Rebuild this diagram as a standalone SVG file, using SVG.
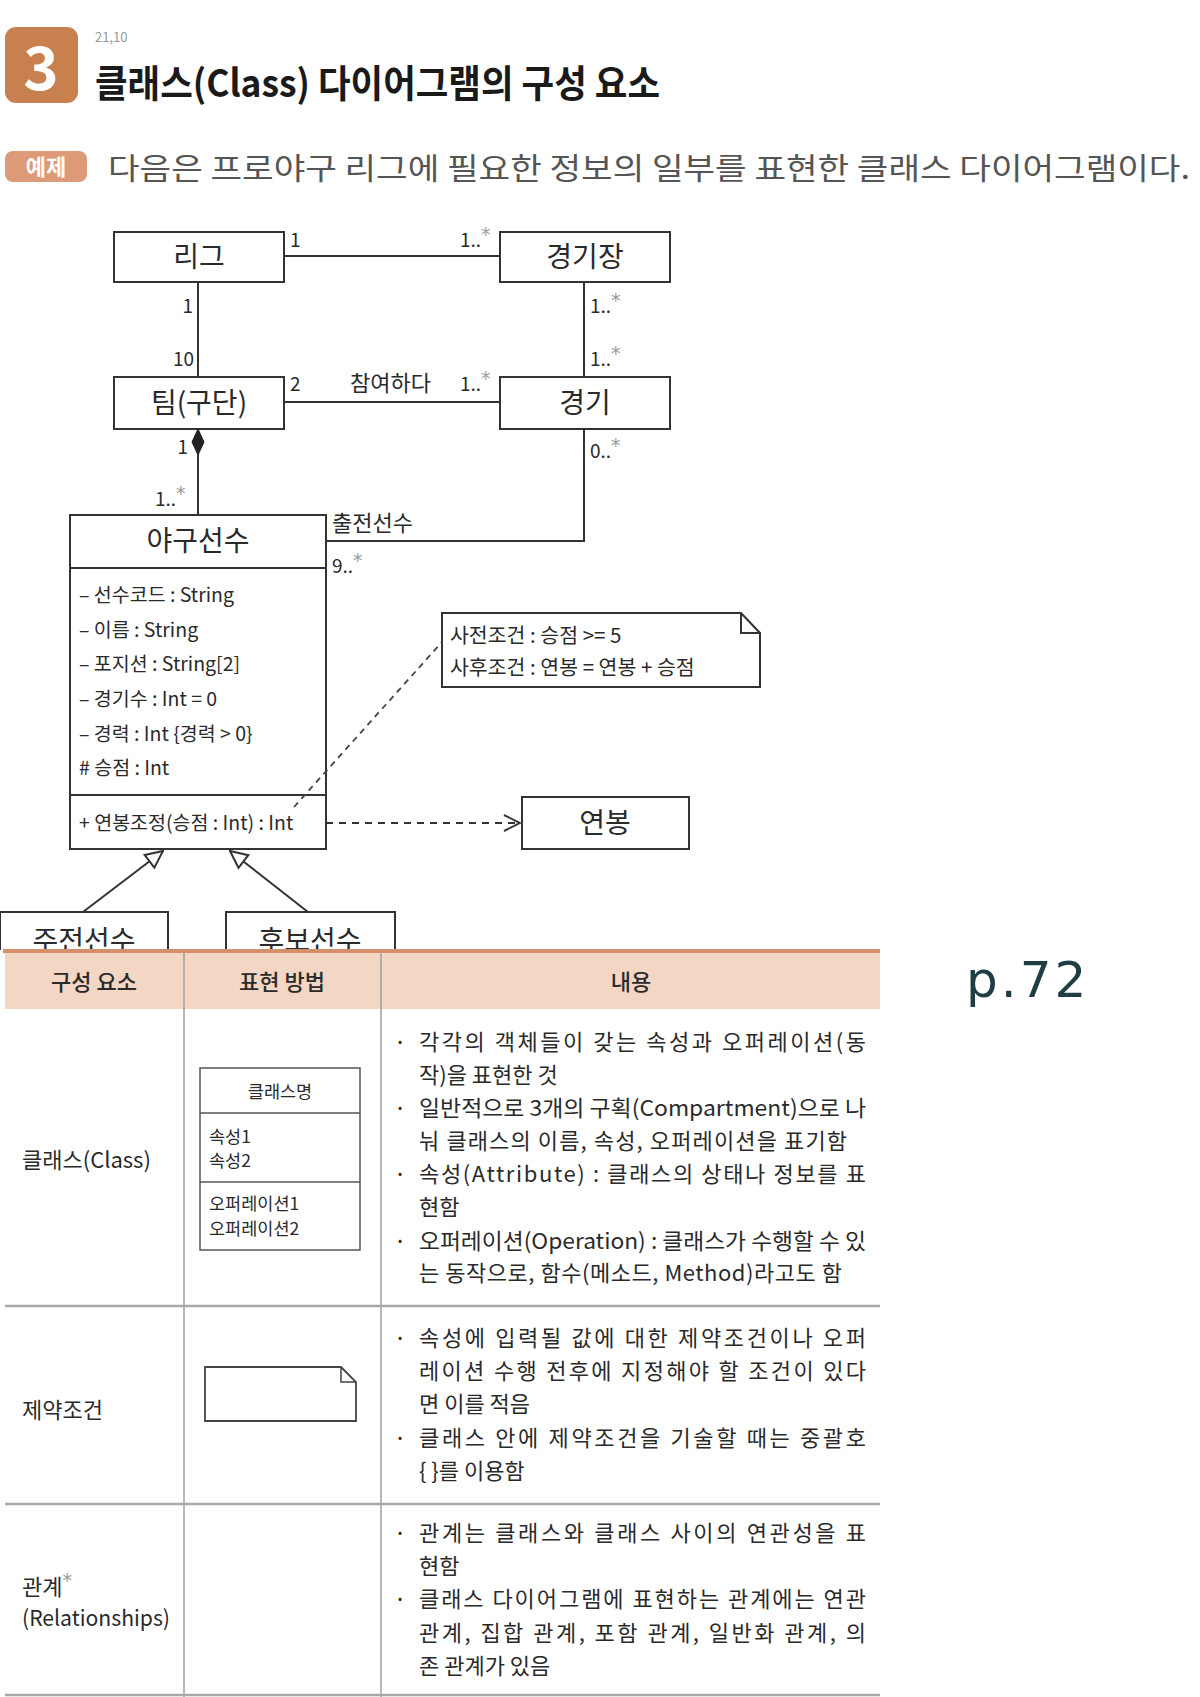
<svg xmlns="http://www.w3.org/2000/svg" width="1200" height="1697" viewBox="0 0 1200 1697">
<defs>
<style>
text{font-family:"Noto Sans CJK KR","Noto Sans",sans-serif;fill:#2a2a2a}
.box{fill:#fff;stroke:#333;stroke-width:2}
.ln{fill:none;stroke:#333;stroke-width:2}
.dash{fill:none;stroke:#333;stroke-width:2;stroke-dasharray:7 6}
.dot{fill:none;stroke:#444;stroke-width:1.8;stroke-dasharray:6 5}
.name{font-size:28px;text-anchor:middle}
.m{font-size:19px}
.m2{font-size:19px;text-anchor:end}
.star{font-size:19px;fill:#9a9a9a;font-family:"DejaVu Sans",sans-serif}
.attr{font-size:19.5px}
.nt{font-size:20.5px}
.lbl{font-size:22px}
.th{font-size:22px;text-anchor:middle;font-weight:500}
.c1{font-size:22px}
.c3{font-size:22px}
.bul{font-size:12px}
.sm{font-size:17.5px}
.grid{stroke:#a0a0a0;stroke-width:1.5;fill:none}
.row{stroke:#a8a8a8;stroke-width:2.5;fill:none}
</style>
<marker id="gen" viewBox="0 0 20 20" refX="19" refY="10" markerWidth="20" markerHeight="20" markerUnits="userSpaceOnUse" orient="auto"><path d="M2,2 L19,10 L2,18 Z" fill="#fff" stroke="#333" stroke-width="2" stroke-dasharray="none"/></marker>
<marker id="open" viewBox="0 0 18 20" refX="17" refY="10" markerWidth="18" markerHeight="20" markerUnits="userSpaceOnUse" orient="auto"><path d="M1,2 L17,10 L1,18" fill="none" stroke="#333" stroke-width="2" stroke-dasharray="none"/></marker>
<marker id="dia" viewBox="0 0 28 14" refX="1" refY="7" markerWidth="28" markerHeight="14" markerUnits="userSpaceOnUse" orient="auto"><path d="M1,7 L14,1 L27,7 L14,13 Z" fill="#222" stroke="#222" stroke-width="1"/></marker>
</defs>
<rect width="1200" height="1697" fill="#fff"/>

<g id="header">
<rect x="5" y="27" width="73" height="76" rx="11" fill="#c9804f"/>
<text x="41" y="90" font-size="60" font-weight="bold" text-anchor="middle" style="fill:#fff">3</text>
<text x="95" y="42" font-size="13" style="fill:#999">21,10</text>
<text x="95" y="97" font-size="38" font-weight="bold" textLength="565" lengthAdjust="spacingAndGlyphs" style="fill:#1a1a1a">클래스(Class) 다이어그램의 구성 요소</text>
<rect x="5" y="151" width="82" height="31" rx="8" fill="#dc9a78"/>
<text x="46" y="175" font-size="22" font-weight="bold" text-anchor="middle" style="fill:#fff">예제</text>
<text x="108" y="179" font-size="30" textLength="1082" lengthAdjust="spacingAndGlyphs" style="fill:#555">다음은 프로야구 리그에 필요한 정보의 일부를 표현한 클래스 다이어그램이다.</text>
</g>

<g id="league"><rect class="box" x="114" y="232" width="170" height="50"/><text class="name" x="199" y="267">리그</text></g>
<g id="stadium"><rect class="box" x="500" y="232" width="170" height="50"/><text class="name" x="585" y="267">경기장</text></g>
<g id="team"><rect class="box" x="114" y="377" width="170" height="52"/><text class="name" x="199" y="413">팀(구단)</text></g>
<g id="game"><rect class="box" x="500" y="377" width="170" height="52"/><text class="name" x="585" y="413">경기</text></g>

<g id="player">
<rect class="box" x="70" y="515" width="256" height="334"/>
<line class="ln" x1="70" y1="568" x2="326" y2="568"/>
<line class="ln" x1="70" y1="795" x2="326" y2="795"/>
<text class="name" x="198" y="551">야구선수</text>
<text class="attr" x="79" y="602">– 선수코드 : String</text>
<text class="attr" x="79" y="637">– 이름 : String</text>
<text class="attr" x="79" y="671">– 포지션 : String[2]</text>
<text class="attr" x="79" y="706">– 경기수 : Int = 0</text>
<text class="attr" x="79" y="741">– 경력 : Int {경력 &gt; 0}</text>
<text class="attr" x="79" y="775"># 승점 : Int</text>
<text class="attr" x="79" y="830">+ 연봉조정(승점 : Int) : Int</text>
</g>

<g id="note">
<path class="box" d="M442,613 H741 L760,633 V687 H442 Z"/>
<path class="ln" d="M741,613 V633 H760"/>
<text class="nt" x="450" y="643">사전조건 : 승점 &gt;= 5</text>
<text class="nt" x="450" y="675">사후조건 : 연봉 = 연봉 + 승점</text>
</g>

<g id="salary"><rect class="box" x="522" y="797" width="167" height="52"/><text class="name" x="605" y="833">연봉</text></g>

<g id="starter"><rect class="box" x="0" y="912" width="168" height="60"/><text class="name" x="84" y="951">주전선수</text></g>
<g id="reserve"><rect class="box" x="226" y="912" width="169" height="60"/><text class="name" x="310" y="951">후보선수</text></g>

<g id="connectors">
<line class="ln" x1="284" y1="256" x2="500" y2="256"/>
<line class="ln" x1="198" y1="282" x2="198" y2="377"/>
<line class="ln" x1="584" y1="282" x2="584" y2="377"/>
<line class="ln" x1="284" y1="402" x2="500" y2="402"/>
<line class="ln" x1="198" y1="429" x2="198" y2="515" marker-start="url(#dia)"/>
<polyline class="ln" points="584,429 584,541 326,541"/>
<line class="dash" x1="326" y1="823" x2="520" y2="823" marker-end="url(#open)"/>
<line class="dot" x1="294" y1="807" x2="442" y2="642"/>
<line class="ln" x1="83" y1="912" x2="163" y2="851" marker-end="url(#gen)"/>
<line class="ln" x1="308" y1="912" x2="230" y2="851" marker-end="url(#gen)"/>
<text class="m" x="290" y="247">1</text>
<text class="m" x="460" y="247">1..<tspan class="star" dy="-6">*</tspan></text>
<text class="m2" x="193" y="313">1</text>
<text class="m2" x="194" y="366">10</text>
<text class="m" x="590" y="313">1..<tspan class="star" dy="-6">*</tspan></text>
<text class="m" x="590" y="366">1..<tspan class="star" dy="-6">*</tspan></text>
<text class="m" x="290" y="391">2</text>
<text class="lbl" x="350" y="391">참여하다</text>
<text class="m" x="460" y="391">1..<tspan class="star" dy="-6">*</tspan></text>
<text class="m2" x="188" y="454">1</text>
<text class="m" x="155" y="506">1..<tspan class="star" dy="-6">*</tspan></text>
<text class="m" x="590" y="458">0..<tspan class="star" dy="-6">*</tspan></text>
<text class="lbl" x="332" y="531">출전선수</text>
<text class="m" x="332" y="573">9..<tspan class="star" dy="-6">*</tspan></text>
</g>

<g id="table">
<rect x="0" y="950" width="880" height="747" fill="#fff"/>
<rect x="5" y="952" width="875" height="57" fill="#f3d6c3"/>
<line x1="3" y1="951" x2="880" y2="951" stroke="#d4906a" stroke-width="4"/>
<line class="grid" x1="184" y1="953" x2="184" y2="1697"/>
<line class="grid" x1="381" y1="953" x2="381" y2="1697"/>
<line class="row" x1="5" y1="1306" x2="880" y2="1306"/>
<line class="row" x1="5" y1="1504" x2="880" y2="1504"/>
<line class="row" x1="5" y1="1695" x2="880" y2="1695"/>
<text class="th" x="94" y="990">구성 요소</text>
<text class="th" x="282" y="990">표현 방법</text>
<text class="th" x="631" y="990">내용</text>

<text class="c1" x="22" y="1168">클래스(Class)</text>
<text class="c1" x="22" y="1418">제약조건</text>
<text class="c1" x="22" y="1595">관계<tspan class="star" dy="-8">*</tspan></text>
<text class="c1" x="22" y="1626" textLength="148" lengthAdjust="spacingAndGlyphs">(Relationships)</text>

<g id="class-icon">
<rect x="200" y="1068" width="160" height="182" fill="#fff" stroke="#555" stroke-width="1.5"/>
<line x1="200" y1="1113" x2="360" y2="1113" stroke="#555" stroke-width="1.5"/>
<line x1="200" y1="1182" x2="360" y2="1182" stroke="#555" stroke-width="1.5"/>
<text class="sm" x="280" y="1098" text-anchor="middle">클래스명</text>
<text class="sm" x="209" y="1143">속성1</text>
<text class="sm" x="209" y="1167">속성2</text>
<text class="sm" x="209" y="1210">오퍼레이션1</text>
<text class="sm" x="209" y="1235">오퍼레이션2</text>
</g>
<g id="note-icon">
<path d="M205,1367 H341 L356,1382 V1421 H205 Z" fill="#fff" stroke="#444" stroke-width="1.8"/>
<path d="M341,1367 V1382 H356" fill="none" stroke="#444" stroke-width="1.5"/>
</g>

<text class="bul" x="398" y="1046">•</text>
<text class="c3" x="419" y="1050" textLength="447" lengthAdjust="spacing">각각의 객체들이 갖는 속성과 오퍼레이션(동</text>
<text class="c3" x="419" y="1083">작)을 표현한 것</text>
<text class="bul" x="398" y="1112">•</text>
<text class="c3" x="419" y="1116" textLength="447" lengthAdjust="spacingAndGlyphs">일반적으로 3개의 구획(Compartment)으로 나</text>
<text class="c3" x="419" y="1149" textLength="428" lengthAdjust="spacing">눠 클래스의 이름, 속성, 오퍼레이션을 표기함</text>
<text class="bul" x="398" y="1178">•</text>
<text class="c3" x="419" y="1182" textLength="447" lengthAdjust="spacing">속성(Attribute) : 클래스의 상태나 정보를 표</text>
<text class="c3" x="419" y="1215">현함</text>
<text class="bul" x="398" y="1245">•</text>
<text class="c3" x="419" y="1249" textLength="447" lengthAdjust="spacingAndGlyphs">오퍼레이션(Operation) : 클래스가 수행할 수 있</text>
<text class="c3" x="419" y="1281" textLength="423" lengthAdjust="spacing">는 동작으로, 함수(메소드, Method)라고도 함</text>

<text class="bul" x="398" y="1342">•</text>
<text class="c3" x="419" y="1346" textLength="447" lengthAdjust="spacing">속성에 입력될 값에 대한 제약조건이나 오퍼</text>
<text class="c3" x="419" y="1379" textLength="447" lengthAdjust="spacing">레이션 수행 전후에 지정해야 할 조건이 있다</text>
<text class="c3" x="419" y="1412">면 이를 적음</text>
<text class="bul" x="398" y="1442">•</text>
<text class="c3" x="419" y="1446" textLength="447" lengthAdjust="spacing">클래스 안에 제약조건을 기술할 때는 중괄호</text>
<text class="c3" x="419" y="1479">{ }를 이용함</text>

<text class="bul" x="398" y="1537">•</text>
<text class="c3" x="419" y="1541" textLength="447" lengthAdjust="spacing">관계는 클래스와 클래스 사이의 연관성을 표</text>
<text class="c3" x="419" y="1574">현함</text>
<text class="bul" x="398" y="1603">•</text>
<text class="c3" x="419" y="1607" textLength="447" lengthAdjust="spacing">클래스 다이어그램에 표현하는 관계에는 연관</text>
<text class="c3" x="419" y="1641" textLength="447" lengthAdjust="spacing">관계, 집합 관계, 포함 관계, 일반화 관계, 의</text>
<text class="c3" x="419" y="1674">존 관계가 있음</text>
</g>

<text x="966" y="997" font-size="50" letter-spacing="3" style="font-family:'DejaVu Sans',sans-serif;fill:#1f3d45">p.72</text>
</svg>
